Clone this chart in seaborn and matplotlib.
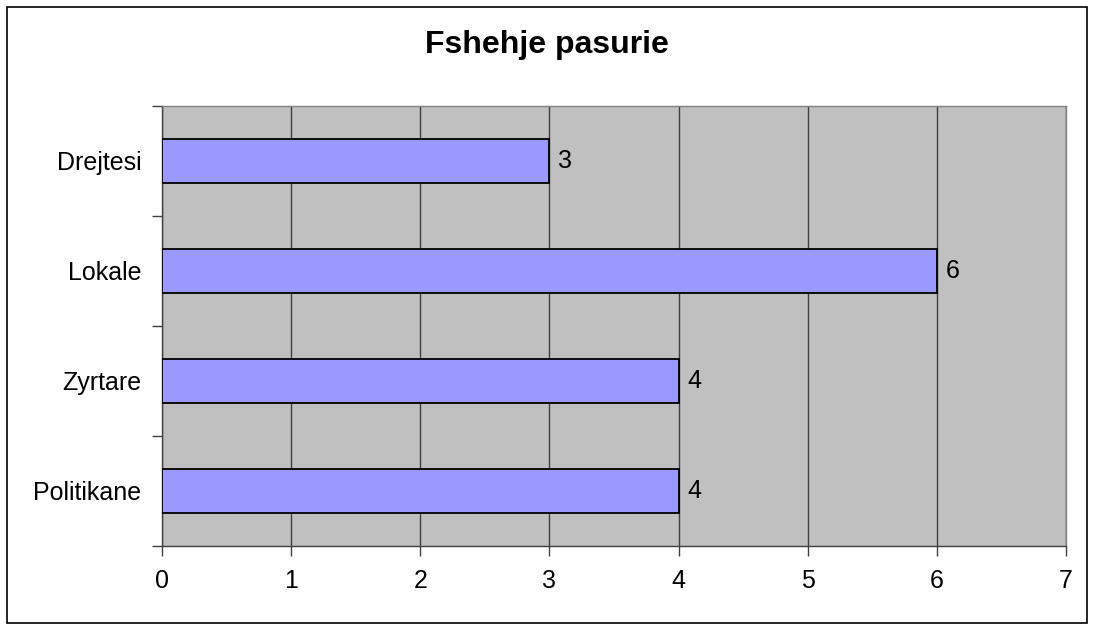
import matplotlib
matplotlib.use("Agg")
import matplotlib.pyplot as plt
import seaborn as sns
import pandas as pd
from matplotlib.patches import Rectangle

# data
categories = ["Drejtesi", "Lokale", "Zyrtare", "Politikane"]
values = [3, 6, 4, 4]
x_ticks = [0, 1, 2, 3, 4, 5, 6, 7]

sns.set_style("white")
plt.rcParams['font.family'] = ['Liberation Sans', 'DejaVu Sans']

df = pd.DataFrame({"kategoria": categories, "numri": values})

fig = plt.figure(figsize=(10.94, 6.3), dpi=100)
ax = fig.add_axes([162 / 1094, 1 - 545.5 / 630, (1066 - 162) / 1094, (545.5 - 106) / 630])
ax.set_facecolor("#C0C0C0")

sns.barplot(data=df, x="numri", y="kategoria", orient="h", ax=ax,
            color="#9999FF", saturation=1, width=0.4,
            edgecolor="black", linewidth=1.3, zorder=3)

ax.set_xlim(0, 7)
ax.set_ylim(3.5, -0.5)
ax.set_xticks(x_ticks)
ax.set_xticklabels([str(t) for t in x_ticks], fontsize=18, color="black")
ax.set_yticks(range(len(categories)))
ax.set_yticklabels(categories, fontsize=18, color="black")
ax.grid(axis="x", color="#404040", linewidth=1, zorder=1)
ax.set_axisbelow(True)
ax.set_xlabel("")
ax.set_ylabel("")

# category ticks sit on the band boundaries, like the original
ax.set_yticks([-0.5, 0.5, 1.5, 2.5, 3.5], minor=True)
ax.tick_params(axis="y", which="minor", length=7, width=1, color="#404040", left=True)
ax.tick_params(axis="y", which="major", length=0, pad=15)
ax.tick_params(axis="x", which="major", length=7, width=1, color="#404040", bottom=True, pad=10)

for side in ["top", "right"]:
    ax.spines[side].set_color("#808080")
    ax.spines[side].set_linewidth(1)
for side in ["left", "bottom"]:
    ax.spines[side].set_color("#404040")
    ax.spines[side].set_linewidth(1)

for i, v in enumerate(values):
    ax.text(v + 0.07, i, str(v), va="center", ha="left", fontsize=18,
            color="black", zorder=4)

fig.text(0.5, 1 - 53 / 630, "Fshehje pasurie", ha="center", va="baseline",
         fontsize=23, fontweight="bold", color="black")

fig.patches.append(Rectangle((7 / 1094, 7 / 630), 1080 / 1094, 616 / 630,
                             transform=fig.transFigure, fill=False,
                             edgecolor="black", linewidth=1.2))

fig.savefig("out.png", dpi=100)
